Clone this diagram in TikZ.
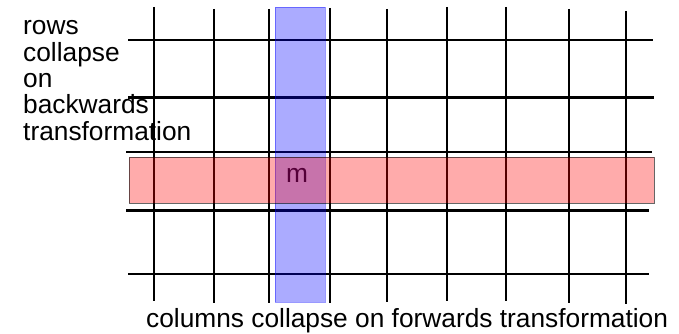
\documentclass[tikz,border=0pt]{standalone}
\usepackage{fontspec}
\setmainfont{Liberation Sans}
\begin{document}
\begin{tikzpicture}[x=1pt,y=-1pt,
  gridline/.style={line width=2.8pt,black},
  lbl/.style={inner sep=0pt,font=\fontsize{26.3}{26.3}\selectfont},
  colbar/.style={fill=blue,fill opacity=0.33,draw=blue,draw opacity=0.4,line width=1pt},
  rowbar/.style={fill=red,fill opacity=0.33,draw=black,draw opacity=0.6,line width=1pt}]
\useasboundingbox (0,0) rectangle (679,334);
% horizontal lines
\draw[gridline] (128,40) -- (653,40);
\draw[gridline] (128,97.5) -- (654,97.5);
\draw[gridline] (126,152) -- (652,152);
\draw[gridline] (126,210.5) -- (649,210.5);
\draw[gridline] (128,274) -- (649,274);
% vertical lines
\draw[gridline] (154,7) -- (154,301);
\draw[gridline] (214,9) -- (214,302.5);
\draw[gridline] (269,9) -- (269,303);
\draw[gridline] (330,8) -- (330,303);
\draw[gridline] (387,9) -- (387,302);
\draw[gridline] (447,7) -- (447,301);
\draw[gridline] (506,7) -- (506,301);
\draw[gridline] (569,9) -- (569,302.5);
\draw[gridline] (626,11) -- (626,304);
% label m
\node[lbl,anchor=base] (m) at (297,182) {m};
% overlays
\draw[colbar] (275,7.5) rectangle (325,302) coordinate (colend);
\draw[rowbar] (129,157) rectangle (654,203) coordinate (rowend);
% texts
\node[lbl,anchor=base west,align=left] (rows) at (23,140)
  {rows\\collapse\\on\\backwards\\transformation};
\node[lbl,anchor=base west] (cols) at (146,327)
  {columns collapse on forwards transformation};
\end{tikzpicture}
\end{document}
